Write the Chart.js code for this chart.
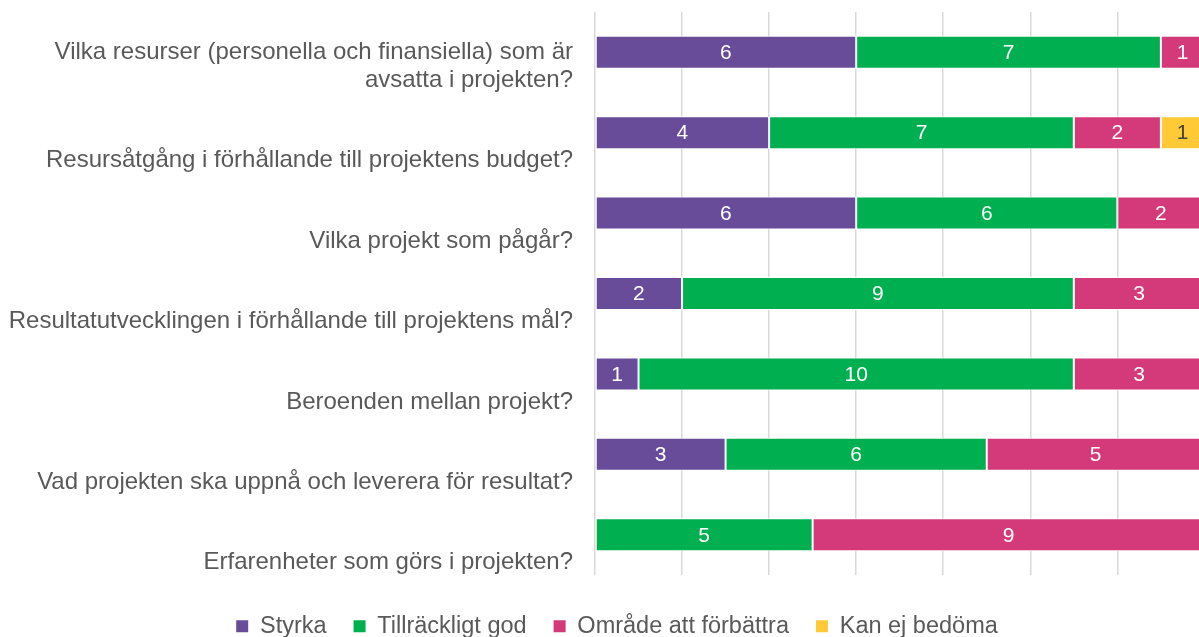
<!DOCTYPE html>
<html>
<head>
<meta charset="utf-8">
<script src="https://cdn.jsdelivr.net/npm/chart.js@4.4.0/dist/chart.umd.min.js"></script>
<style>
    html, body { margin: 0; padding: 0; background: #fff; overflow: hidden; }
    #wrap { width: 1234px; height: 637px; }
</style>
</head>
<body>
<div id="wrap"><canvas id="chart"></canvas></div>
<script>
// category labels, long one split in two lines
const categories = [
    ['Vilka resurser (personella och finansiella) som är', 'avsatta i projekten?'],
    'Resursåtgång i förhållande till projektens budget?',
    'Vilka projekt som pågår?',
    'Resultatutvecklingen i förhållande till projektens mål?',
    'Beroenden mellan projekt?',
    'Vad projekten ska uppnå och leverera för resultat?',
    'Erfarenheter som görs i projekten?'
];

const styrka = [6, 4, 6, 2, 1, 3, null];
const tillrackligt = [7, 7, 6, 9, 10, 6, 5];
const omrade = [1, 2, 2, 3, 3, 5, 9];
const kanEj = [null, 1, null, null, null, null, null];

const seriesNames = ['Styrka', 'Tillräckligt god', 'Område att förbättra', 'Kan ej bedöma'];
const xTicks = [0, 2, 4, 6, 8, 10, 12, 14];

const colors = ['#684C99', '#00B050', '#D43A79', '#FFCA36'];
const labelColors = ['#ffffff', '#ffffff', '#ffffff', '#404040'];
const FONT = '"Liberation Sans", Arial, sans-serif';

// value in the middle of each bar segment
const valueLabels = {
    id: 'valueLabels',
    afterDatasetsDraw(chart) {
        const ctx = chart.ctx;
        ctx.save();
        ctx.font = '21px ' + FONT;
        ctx.textAlign = 'center';
        ctx.textBaseline = 'middle';
        chart.data.datasets.forEach((ds, i) => {
            const meta = chart.getDatasetMeta(i);
            meta.data.forEach((bar, j) => {
                const v = ds.data[j];
                if (v === null || v === 0) return;
                const p = bar.getProps(['x', 'y', 'base'], true);
                ctx.fillStyle = labelColors[i];
                ctx.fillText(String(v), (p.x + p.base) / 2, p.y + 1);
            });
        });
        ctx.restore();
    }
};

// category names: last line sits a bit below the bar, like in Excel
const categoryLabels = {
    id: 'categoryLabels',
    afterDraw(chart) {
        const ctx = chart.ctx;
        const yScale = chart.scales.y;
        const lineH = 28;
        ctx.save();
        ctx.font = '24px ' + FONT;
        ctx.fillStyle = '#595959';
        ctx.textAlign = 'right';
        ctx.textBaseline = 'middle';
        categories.forEach((c, i) => {
            const lines = Array.isArray(c) ? c : [c];
            const y = yScale.getPixelForTick(i) + 28;
            lines.forEach((t, k) => {
                ctx.fillText(t, chart.chartArea.left - 22, y - (lines.length - 1 - k) * lineH);
            });
        });
        ctx.restore();
    }
};

const ctx = document.getElementById('chart').getContext('2d');
new Chart(ctx, {
    type: 'bar',
    data: {
        labels: categories.map(c => Array.isArray(c) ? c.join(' ') : c),
        datasets: [styrka, tillrackligt, omrade, kanEj].map((d, i) => ({
            label: seriesNames[i],
            data: d,
            backgroundColor: colors[i],
            borderColor: '#ffffff',
            borderWidth: 1,
            borderSkipped: false,
            categoryPercentage: 1,
            barPercentage: 0.41
        }))
    },
    options: {
        indexAxis: 'y',
        responsive: true,
        maintainAspectRatio: false,
        animation: false,
        layout: { padding: { top: 12, bottom: -11, left: 0, right: 0 } },
        plugins: {
            legend: {
                position: 'bottom',
                labels: {
                    boxWidth: 12,
                    boxHeight: 12,
                    padding: 27,
                    color: '#595959',
                    font: { size: 23.5, family: FONT },
                    // plain filled squares, no white outline
                    generateLabels: chart => Chart.defaults.plugins.legend.labels.generateLabels(chart).map(item => {
                        item.strokeStyle = item.fillStyle;
                        item.lineWidth = 0;
                        return item;
                    })
                }
            },
            tooltip: { enabled: false }
        },
        scales: {
            x: {
                stacked: true,
                min: 0,
                max: 14.68,
                afterBuildTicks: scale => { scale.ticks = xTicks.map(v => ({ value: v })); },
                afterFit: scale => { scale.height = 12.5; },
                ticks: { display: false },
                grid: { color: '#d9d9d9', lineWidth: 1.5, drawTicks: false },
                border: { display: false }
            },
            y: {
                stacked: true,
                afterFit: scale => { scale.width = 595; },
                ticks: { display: false },
                grid: { display: false, drawTicks: false },
                border: { display: false }
            }
        }
    },
    plugins: [valueLabels, categoryLabels]
});
</script>
</body>
</html>
